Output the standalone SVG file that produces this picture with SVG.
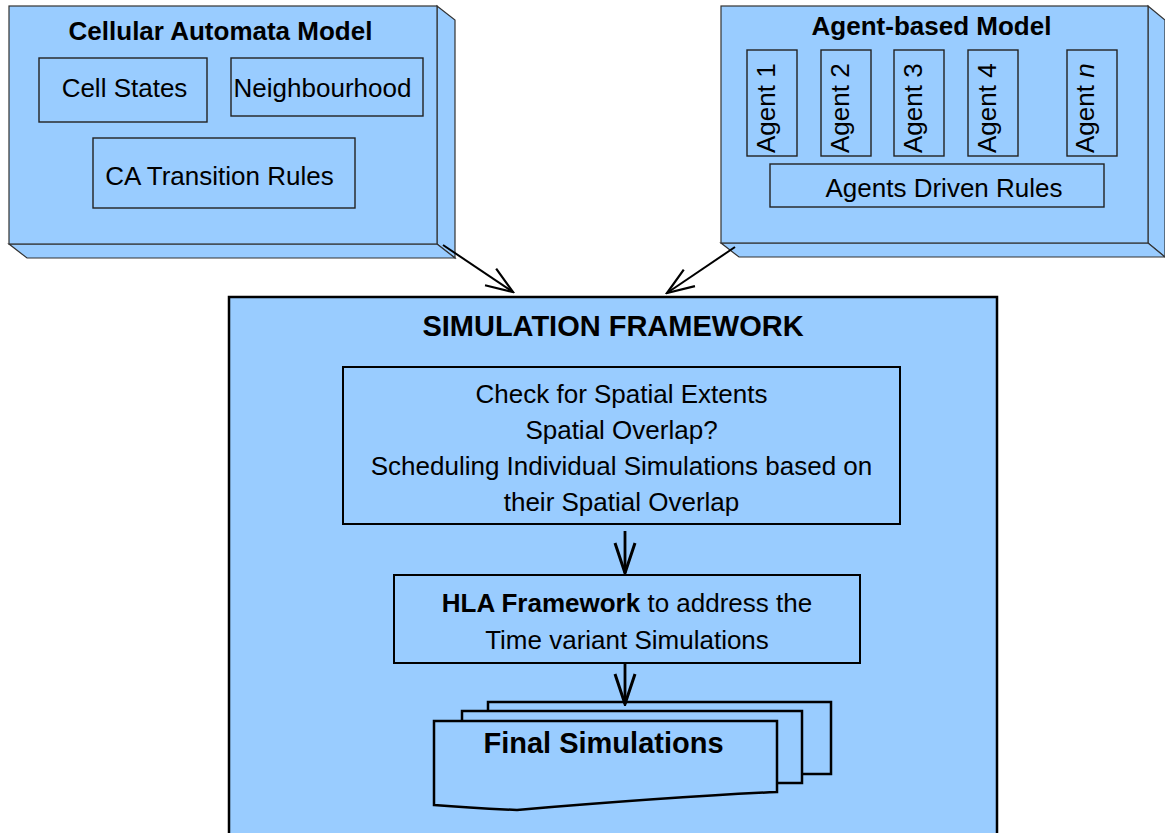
<svg xmlns="http://www.w3.org/2000/svg" width="1165" height="833" viewBox="0 0 1165 833">
<style>
text{font-family:"Liberation Sans",Arial,sans-serif;fill:#000;}
.t{font-size:26px;}
.b{font-size:26px;font-weight:bold;}
.bb{font-size:29px;font-weight:bold;}
.c{text-anchor:middle;}
.box3d{fill:#99CCFF;stroke:#333;stroke-width:1.2;}
.inner{fill:#99CCFF;stroke:#222;stroke-width:1.4;}
.main{fill:#99CCFF;stroke:#000;stroke-width:2.5;}
.proc{fill:#99CCFF;stroke:#000;stroke-width:2;}
.conn{fill:none;stroke:#000;stroke-width:2;marker-end:url(#arr);}
.flow{fill:none;stroke:#000;stroke-width:2.8;marker-end:url(#arr2);}
</style>
<defs>
<marker id="arr" markerUnits="userSpaceOnUse" viewBox="-30 -12 32 24" refX="0" refY="0" markerWidth="32" markerHeight="24" orient="auto">
<path d="M-27,-10 L0,0 L-27,10" fill="none" stroke="#000" stroke-width="2.2"/>
</marker>
<marker id="arr2" markerUnits="userSpaceOnUse" viewBox="-34 -12 36 24" refX="0" refY="0" markerWidth="36" markerHeight="24" orient="auto">
<path d="M-30,-10 L0,0 L-30,10" fill="none" stroke="#000" stroke-width="3"/>
</marker>
</defs>
<rect width="1165" height="833" fill="#fff"/>

<g id="ca-model">
<polygon class="box3d" points="437,6 455,20 455,258 437,244"/>
<polygon class="box3d" points="9,244 437,244 455,258 27,258"/>
<rect class="box3d" x="9" y="6" width="428" height="238"/>
<text class="b c" x="220.5" y="40">Cellular Automata Model</text>
<g id="cell-states"><rect class="inner" x="39" y="58" width="168" height="64"/><text class="t c" x="124.5" y="97">Cell States</text></g>
<g id="neighbourhood"><rect class="inner" x="231" y="58" width="192" height="58"/><text class="t c" x="322.5" y="97">Neighbourhood</text></g>
<g id="ca-rules"><rect class="inner" x="93" y="138" width="262" height="70"/><text class="t c" x="219.5" y="185">CA Transition Rules</text></g>
</g>

<g id="agent-model">
<polygon class="box3d" points="1148,6 1165,20 1165,257 1148,243"/>
<polygon class="box3d" points="721,243 1148,243 1165,257 739,257"/>
<rect class="box3d" x="721" y="6" width="427" height="237"/>
<text class="b c" x="931.5" y="35">Agent-based Model</text>
<g id="agent1"><rect class="inner" x="747" y="50" width="50" height="106"/><text class="t" transform="translate(775,153) rotate(-90)">Agent 1</text></g>
<g id="agent2"><rect class="inner" x="821" y="50" width="50" height="106"/><text class="t" transform="translate(849,153) rotate(-90)">Agent 2</text></g>
<g id="agent3"><rect class="inner" x="894" y="50" width="50" height="106"/><text class="t" transform="translate(922,153) rotate(-90)">Agent 3</text></g>
<g id="agent4"><rect class="inner" x="968" y="50" width="50" height="106"/><text class="t" transform="translate(996,153) rotate(-90)">Agent 4</text></g>
<g id="agentn"><rect class="inner" x="1067" y="50" width="50" height="106"/><text class="t" transform="translate(1094,153) rotate(-90)">Agent <tspan font-style="italic">n</tspan></text></g>
<g id="agent-rules"><rect class="inner" x="770" y="164" width="334" height="43"/><text class="t c" x="944" y="197">Agents Driven Rules</text></g>
</g>

<g id="sim-framework">
<rect class="main" x="229" y="297" width="768" height="560"/>
<text class="bb c" x="613" y="336">SIMULATION FRAMEWORK</text>
</g>

<g id="check-box">
<rect class="proc" x="343" y="367" width="557" height="157"/>
<text class="t c" x="621.5" y="403">Check for Spatial Extents</text>
<text class="t c" x="621.5" y="439">Spatial Overlap?</text>
<text class="t c" x="621.5" y="475">Scheduling Individual Simulations based on</text>
<text class="t c" x="621.5" y="511">their Spatial Overlap</text>
</g>

<g id="hla-box">
<rect class="proc" x="394" y="575" width="466" height="88"/>
<text class="t c" x="627" y="612"><tspan font-weight="bold">HLA Framework</tspan> to address the</text>
<text class="t c" x="627" y="649">Time variant Simulations</text>
</g>

<g id="final-sims">
<rect class="main" x="488" y="702" width="343" height="72"/>
<rect class="main" x="462" y="711" width="340" height="72"/>
<path class="main" d="M434,721 H777 V792 C690,796 600,803 517,810 Q470,808 434,805 Z"/>
<text class="bb c" x="603.5" y="753">Final Simulations</text>
</g>

<g id="connectors">
<line class="conn" x1="443" y1="245" x2="513" y2="292"/>
<line class="conn" x1="735" y1="247" x2="667" y2="293"/>
<line class="flow" x1="625" y1="531" x2="625" y2="573"/>
<line class="flow" x1="625" y1="663" x2="625" y2="704"/>
</g>
</svg>
